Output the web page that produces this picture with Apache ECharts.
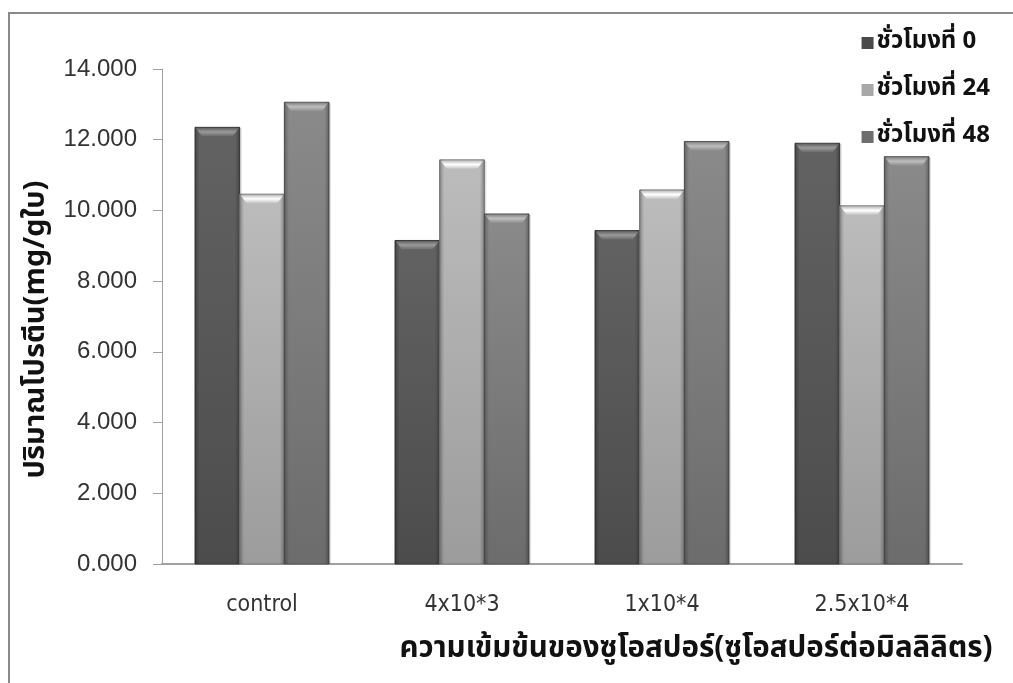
<!DOCTYPE html>
<html>
<head>
<meta charset="utf-8">
<script src="https://cdn.jsdelivr.net/npm/echarts@6/dist/echarts.min.js"></script>
<style>
  html, body { margin: 0; padding: 0; background: #ffffff; }
  #chart { width: 1013px; height: 683px; }
</style>
</head>
<body>
<div id="chart"></div>
<script>
// Protein content by zoospore concentration, measured at 0, 24 and 48 hours
const categories = ['control', '4x10*3', '1x10*4', '2.5x10*4'];
const seriesNames = ['ชั่วโมงที่ 0', 'ชั่วโมงที่ 24', 'ชั่วโมงที่ 48'];
const hour0 = [12.35, 9.15, 9.43, 11.90];
const hour24 = [10.46, 11.43, 10.58, 10.13];
const hour48 = [13.06, 9.90, 11.95, 11.52];
const yTicks = [0, 2, 4, 6, 8, 10, 12, 14];

const thaiFont = "'Noto Sans Thai', 'Tahoma', 'Liberation Sans', 'DejaVu Sans', sans-serif";
const narrowFont = "'Liberation Sans Narrow', 'DejaVu Sans Condensed', 'Liberation Sans', sans-serif";

const values = [hour0, hour24, hour48];

// bevelled bar shading per series
const palettes = [
  { top: '#626262', bottom: '#4c4c4c', edge: '#3a3a3a', bevelHi: '#9a9a9a', bevelLo: '#6a6a6a', legend: '#4a4a4a' },
  { top: '#bcbcbc', bottom: '#9c9c9c', edge: '#7a7a7a', bevelHi: '#ffffff', bevelLo: '#c4c4c4', legend: '#a8a8a8' },
  { top: '#8a8a8a', bottom: '#6c6c6c', edge: '#555555', bevelHi: '#bdbdbd', bevelLo: '#8e8e8e', legend: '#6e6e6e' }
];

const groupFill = 0.67; // share of each category band taken by the three bars

function makeRenderItem(si) {
  const p = palettes[si];
  return function (params, api) {
    const idx = api.value(0);
    const val = api.value(1);
    const base = api.coord([idx, 0]);
    const topPt = api.coord([idx, val]);
    const band = api.size([1, 0])[0];
    const bw = band * groupFill / 3;
    const left = base[0] - 1.5 * bw + si * bw;
    const top = topPt[1];
    const h = base[1] - top;
    const bevelH = Math.min(9, h);
    const inset = 7;
    return {
      type: 'group',
      children: [
        {
          type: 'rect',
          shape: { x: left + 2, y: top + 1, width: bw, height: h - 1 },
          style: { fill: 'rgba(0,0,0,0.12)' }
        },
        {
          type: 'rect',
          shape: { x: left, y: top, width: bw, height: h },
          style: {
            fill: new echarts.graphic.LinearGradient(0, 0, 0, 1, [
              { offset: 0, color: p.top },
              { offset: 1, color: p.bottom }
            ]),
            stroke: p.edge,
            lineWidth: 1
          }
        },
        {
          type: 'rect',
          shape: { x: left, y: top, width: bw, height: h },
          style: {
            fill: new echarts.graphic.LinearGradient(0, 0, 1, 0, [
              { offset: 0, color: 'rgba(0,0,0,0.28)' },
              { offset: 0.1, color: 'rgba(0,0,0,0)' },
              { offset: 0.9, color: 'rgba(0,0,0,0)' },
              { offset: 1, color: 'rgba(0,0,0,0.28)' }
            ])
          }
        },
        {
          type: 'polygon',
          shape: {
            points: [
              [left + 1, top + 1],
              [left + bw - 1, top + 1],
              [left + bw - inset, top + bevelH],
              [left + inset, top + bevelH]
            ]
          },
          style: {
            fill: new echarts.graphic.LinearGradient(0, 0, 0, 1, [
              { offset: 0, color: p.bevelLo },
              { offset: 0.45, color: p.bevelHi },
              { offset: 1, color: p.bevelLo }
            ])
          }
        }
      ]
    };
  };
}

const chart = echarts.init(document.getElementById('chart'), null, { renderer: 'canvas' });

chart.setOption({
  backgroundColor: '#ffffff',
  animation: false,
  graphic: [{
    type: 'rect',
    shape: { x: 9, y: 13, width: 1100, height: 800 },
    style: { fill: 'none', stroke: '#8a8a8a', lineWidth: 2 },
    z: 0
  }],
  legend: {
    orient: 'vertical',
    right: 18,
    top: 26,
    itemGap: 23,
    itemWidth: 12,
    itemHeight: 12,
    icon: 'rect',
    textStyle: { fontFamily: thaiFont, fontSize: 24, fontWeight: 'bold', color: '#111', padding: [0, 0, 0, -2] },
    data: seriesNames.map((n, i) => ({ name: n, itemStyle: { color: palettes[i].legend } }))
  },
  grid: { left: 162, right: 51, top: 69, bottom: 119, outerBoundsMode: 'none' },
  xAxis: {
    type: 'category',
    data: categories,
    axisLine: { lineStyle: { color: '#a0a0a0', width: 2 } },
    axisTick: { show: false },
    axisLabel: { fontFamily: narrowFont, fontSize: 23, color: '#333', margin: 30 },
    name: 'ความเข้มข้นของซูโอสปอร์(ซูโอสปอร์ต่อมิลลิลิตร)',
    nameLocation: 'middle',
    nameGap: 72,
    nameTextStyle: { fontFamily: thaiFont, fontSize: 29.5, fontWeight: 'bold', color: '#111', padding: [0, 0, 0, 268] }
  },
  yAxis: {
    type: 'value',
    min: yTicks[0],
    max: yTicks[yTicks.length - 1],
    interval: 2,
    axisLine: { show: true, lineStyle: { color: '#a0a0a0' } },
    axisTick: { show: true, length: 9, lineStyle: { color: '#a0a0a0' } },
    splitLine: { show: false },
    axisLabel: {
      fontFamily: "'Liberation Sans', 'Arial', sans-serif",
      fontSize: 24,
      color: '#333',
      margin: 25,
      formatter: v => v.toFixed(3)
    },
    name: 'ปริมาณโปรตีน(mg/gใบ)',
    nameLocation: 'middle',
    nameGap: 102,
    nameRotate: 90,
    nameTextStyle: { fontFamily: thaiFont, fontSize: 29, fontWeight: 'bold', color: '#111', padding: [0, 26, 0, 0] }
  },
  series: seriesNames.map((name, i) => ({
    name: name,
    type: 'custom',
    renderItem: makeRenderItem(i),
    itemStyle: { color: palettes[i].legend },
    encode: { x: 0, y: 1 },
    data: values[i].map((v, k) => [k, v])
  }))
});
</script>
</body>
</html>
